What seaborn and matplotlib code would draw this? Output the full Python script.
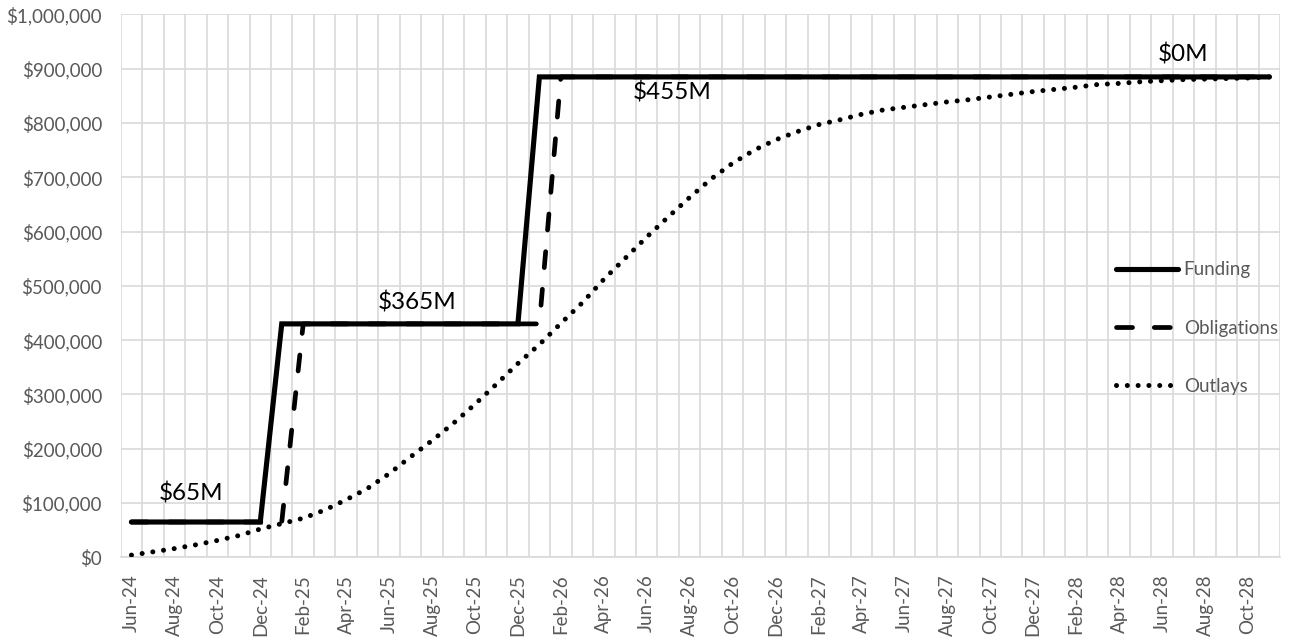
import matplotlib
matplotlib.use("Agg")
import matplotlib.pyplot as plt
import seaborn as sns
import pandas as pd
from matplotlib.ticker import FixedLocator, FuncFormatter

# Monthly categories, Jun-24 .. Nov-28
months = [
    "Jun-24", "Jul-24", "Aug-24", "Sep-24", "Oct-24", "Nov-24", "Dec-24",
    "Jan-25", "Feb-25", "Mar-25", "Apr-25", "May-25", "Jun-25", "Jul-25",
    "Aug-25", "Sep-25", "Oct-25", "Nov-25", "Dec-25", "Jan-26", "Feb-26",
    "Mar-26", "Apr-26", "May-26", "Jun-26", "Jul-26", "Aug-26", "Sep-26",
    "Oct-26", "Nov-26", "Dec-26", "Jan-27", "Feb-27", "Mar-27", "Apr-27",
    "May-27", "Jun-27", "Jul-27", "Aug-27", "Sep-27", "Oct-27", "Nov-27",
    "Dec-27", "Jan-28", "Feb-28", "Mar-28", "Apr-28", "May-28", "Jun-28",
    "Jul-28", "Aug-28", "Sep-28", "Oct-28", "Nov-28",
]

funding = [
    65000, 65000, 65000, 65000, 65000, 65000, 65000,
    430000, 430000, 430000, 430000, 430000, 430000, 430000,
    430000, 430000, 430000, 430000, 430000, 885000, 885000,
    885000, 885000, 885000, 885000, 885000, 885000, 885000,
    885000, 885000, 885000, 885000, 885000, 885000, 885000,
    885000, 885000, 885000, 885000, 885000, 885000, 885000,
    885000, 885000, 885000, 885000, 885000, 885000, 885000,
    885000, 885000, 885000, 885000, 885000,
]

obligations = [
    65000, 65000, 65000, 65000, 65000, 65000, 65000,
    65000, 430000, 430000, 430000, 430000, 430000, 430000,
    430000, 430000, 430000, 430000, 430000, 430000, 885000,
    885000, 885000, 885000, 885000, 885000, 885000, 885000,
    885000, 885000, 885000, 885000, 885000, 885000, 885000,
    885000, 885000, 885000, 885000, 885000, 885000, 885000,
    885000, 885000, 885000, 885000, 885000, 885000, 885000,
    885000, 885000, 885000, 885000, 885000,
]

outlays = [
    4000, 10000, 16000, 23000, 31000, 40000, 52000,
    62000, 72000, 87000, 106000, 127000, 154000, 185000,
    215000, 247000, 282000, 319000, 357000, 392000, 431000,
    469000, 512000, 551000, 590000, 627000, 663000, 697000,
    726000, 750000, 769000, 784000, 797000, 806000, 816000,
    824000, 829000, 834000, 839000, 843000, 848000, 853000,
    858000, 862000, 866000, 871000, 873000, 876000, 878000,
    880000, 881000, 882000, 883000, 885000,
]

# Increment labels for each funding tranche: (text, month position, y)
step_labels = ["$65M", "$365M", "$455M", "$0M"]
step_label_x = [2.76, 13.3, 25.2, 49.0]
step_label_y = [118000, 470000, 857000, 927000]

df = pd.DataFrame({
    "pos": range(len(months)),
    "month": months,
    "Funding": funding,
    "Obligations": obligations,
    "Outlays": outlays,
})

sns.set_style("white")
plt.rcParams["font.family"] = ["Lato", "DejaVu Sans"]

GRID = "#d9d9d9"
TEXT = "#595959"
TICK_FS = 13.5

fig = plt.figure(figsize=(12.98, 6.38), dpi=100)
ax = fig.add_axes([0.093, 0.1265, 0.8932, 0.8508])

sns.lineplot(data=df, x="pos", y="Outlays", ax=ax, color="black",
             linewidth=3.6, linestyle=(0, (0.01, 2.15)), zorder=3,
             label="Outlays")
sns.lineplot(data=df, x="pos", y="Obligations", ax=ax, color="black",
             linewidth=3.4, linestyle=(0, (3.4, 4.6)), zorder=4,
             label="Obligations")
sns.lineplot(data=df, x="pos", y="Funding", ax=ax, color="black",
             linewidth=3.7, linestyle="-", zorder=5, label="Funding")

for line in ax.get_lines():
    line.set_dash_capstyle("round")
    line.set_solid_capstyle("round")
    line.set_solid_joinstyle("miter")

for txt, x, y in zip(step_labels, step_label_x, step_label_y):
    ax.text(x, y, txt, ha="center", va="center", fontsize=17.5,
            color="black", zorder=6)

n = len(months)
ax.set_xlim(-0.5, n - 0.5)
ax.set_ylim(0, 1_000_000)

# Vertical grid at every month boundary; tick marks every second boundary
ax.xaxis.set_major_locator(FixedLocator([b - 0.5 for b in range(0, n, 2)]))
ax.xaxis.set_minor_locator(FixedLocator([b - 0.5 for b in range(n + 1)]))
ax.tick_params(axis="x", which="major", length=4, width=1.2, color=GRID,
               labelbottom=False)
ax.tick_params(axis="x", which="minor", length=0)
ax.grid(True, axis="x", which="both", color=GRID, linewidth=1.2)

ax.yaxis.set_major_locator(FixedLocator(range(0, 1_000_001, 100_000)))
ax.yaxis.set_major_formatter(FuncFormatter(lambda v, _: f"${v:,.0f}"))
ax.tick_params(axis="y", length=0, pad=13.5, labelsize=TICK_FS,
               labelcolor=TEXT)
ax.grid(True, axis="y", which="major", color=GRID, linewidth=1.2)

for side in ("left", "right", "top"):
    ax.spines[side].set_visible(False)
ax.spines["bottom"].set_color(GRID)
ax.spines["bottom"].set_linewidth(1.2)

ax.set_xlabel("")
ax.set_ylabel("")

# Month names centred on every second category
sec = ax.secondary_xaxis("bottom")
sec.set_xticks(list(range(0, n, 2)), labels=months[0::2])
sec.tick_params(axis="x", length=0, pad=12.5, labelsize=TICK_FS,
                labelcolor=TEXT, labelrotation=90)
sec.spines["bottom"].set_visible(False)

handles, labels = ax.get_legend_handles_labels()
order = [labels.index(k) for k in ("Funding", "Obligations", "Outlays")]
leg = ax.legend([handles[i] for i in order], [labels[i] for i in order],
                loc="center left", bbox_to_anchor=(0.8505, 0.4224),
                frameon=False, borderpad=0, fontsize=TICK_FS,
                handlelength=3.3, handletextpad=0.3, labelspacing=2.2)
for t in leg.get_texts():
    t.set_color(TEXT)

fig.savefig("out.png", dpi=100)
